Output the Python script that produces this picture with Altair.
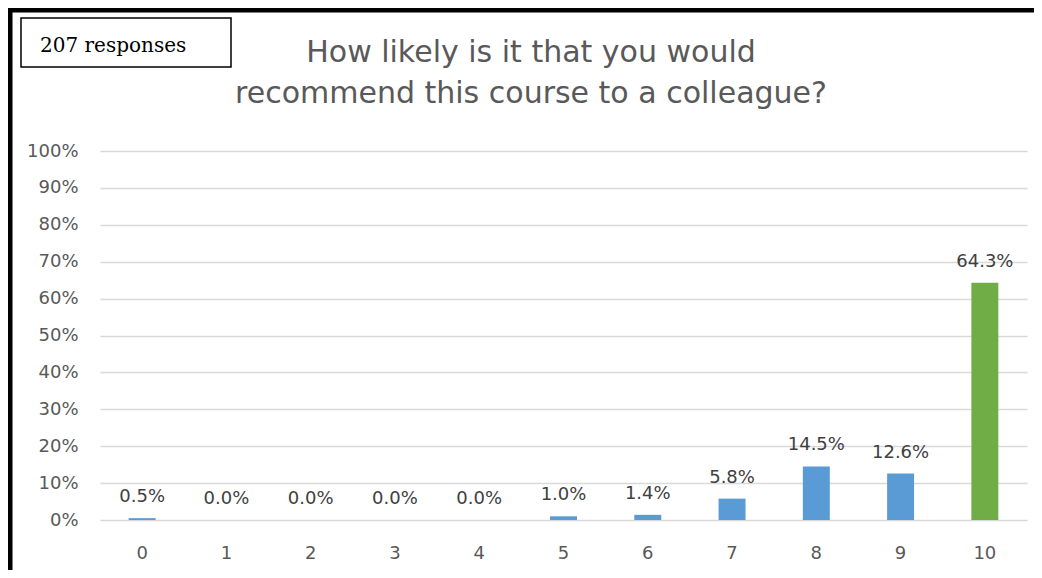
import altair as alt
import pandas as pd

scores = ["0", "1", "2", "3", "4", "5", "6", "7", "8", "9", "10"]
shares = [0.005, 0.0, 0.0, 0.0, 0.0, 0.010, 0.014, 0.058, 0.145, 0.126, 0.643]
y_ticks = [0.0, 0.1, 0.2, 0.3, 0.4, 0.5, 0.6, 0.7, 0.8, 0.9, 1.0]
title_lines = ["How likely is it that you would", "recommend this course to a colleague?"]
responses_label = "207 responses"

df = pd.DataFrame({"score": scores, "share": shares})

SANS = "DejaVu Sans"
GRAY = "#595959"

x_enc = alt.X("score:N", sort=scores,
              scale=alt.Scale(paddingInner=0.68, paddingOuter=0.34),
              axis=alt.Axis(title=None, labelAngle=0, domain=False, ticks=False,
                            labelFont=SANS, labelFontSize=18, labelColor=GRAY,
                            labelBaseline="alphabetic", labelPadding=38))
y_enc = alt.Y("share:Q", scale=alt.Scale(domain=[0, 1], nice=False),
              axis=alt.Axis(title=None, values=y_ticks, tickCount=11, format=".0%",
                            labelOverlap=False,
                            domain=False, ticks=False, grid=True, gridColor="#d9d9d9",
                            gridWidth=1.5, labelFont=SANS, labelFontSize=18,
                            labelColor=GRAY, labelPadding=22))

bars = alt.Chart(df).mark_bar().encode(
    x=x_enc, y=y_enc,
    color=alt.condition(alt.datum.score == "10", alt.value("#70AD47"), alt.value("#5B9BD5")),
)

labels = alt.Chart(df).mark_text(font=SANS, fontSize=18, color="#404040",
                                 baseline="alphabetic", dy=-16).encode(
    x=alt.X("score:N", sort=scores), y="share:Q",
    text=alt.Text("share:Q", format=".1%"),
)

one = alt.Data(values=[{"a": 1}])

t1 = alt.Chart(one).mark_text(text=title_lines[0], font=SANS, fontSize=30, color=GRAY,
                              align="center", baseline="alphabetic").encode(
    x=alt.value(431), y=alt.value(-89))
t2 = alt.Chart(one).mark_text(text=title_lines[1], font=SANS, fontSize=30, color=GRAY,
                              align="center", baseline="alphabetic").encode(
    x=alt.value(431), y=alt.value(-48))

box = alt.Chart(one).mark_rect(fill="white", stroke="black", strokeWidth=1.5).encode(
    x=alt.value(-79), x2=alt.value(131), y=alt.value(-133), y2=alt.value(-84))
box_text = alt.Chart(one).mark_text(text=responses_label, font="DejaVu Serif",
                                    fontSize=20, color="black", align="left",
                                    baseline="alphabetic").encode(
    x=alt.value(-60), y=alt.value(-99))

top_border = alt.Chart(one).mark_rule(color="black", strokeWidth=5).encode(
    x=alt.value(-92), x2=alt.value(934), y=alt.value(-141))
left_border = alt.Chart(one).mark_rule(color="black", strokeWidth=5).encode(
    x=alt.value(-90), y=alt.value(-143), y2=alt.value(419))

chart = alt.layer(bars, labels, t1, t2, box, box_text, top_border, left_border).properties(
    width=927, height=369,
    padding={"left": 92, "top": 143, "right": 7, "bottom": 50},
    autosize=alt.AutoSizeParams(type="none"),
    background="white",
).configure_view(stroke=None)

chart.save("out.html", embed_options={"renderer": "svg", "actions": False})
